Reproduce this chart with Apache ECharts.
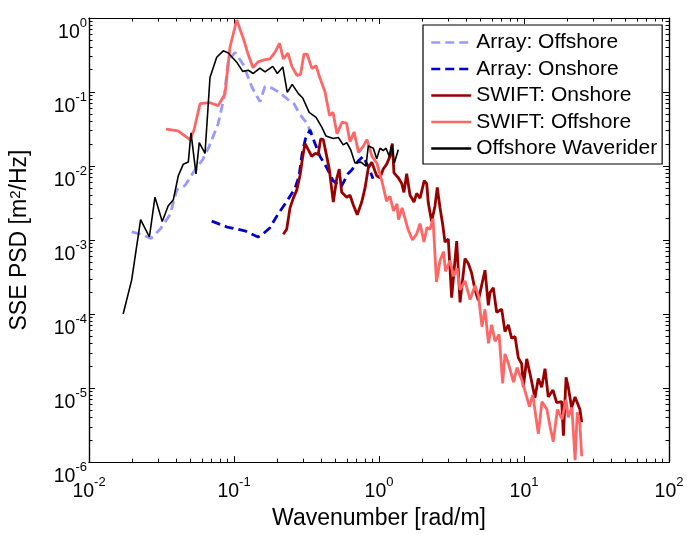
<!DOCTYPE html>
<html>
<head>
<meta charset="utf-8">
<script src="https://cdn.jsdelivr.net/npm/echarts@6/dist/echarts.min.js"></script>
<style>
  html, body { margin: 0; padding: 0; background: #fff; }
  #chart { width: 687px; height: 535px; }
</style>
</head>
<body>
<div id="chart"></div>
<script>
// Wavenumber [rad/m] and SSE PSD [m^2/Hz]
const arrayOffK = [0.0197, 0.0228, 0.0268, 0.0309, 0.0362, 0.0404, 0.0459, 0.0522, 0.0611, 0.0673,
  0.0776, 0.0853, 0.0914, 0.1016, 0.116, 0.133, 0.151, 0.1636, 0.183, 0.2075,
  0.232, 0.259, 0.285, 0.314, 0.345];
const arrayOffPsd = [1.29e-3, 1.2e-3, 1.05e-3, 1.4e-3, 2.2e-3, 4.8e-3, 5.45e-3, 8.1e-3, 0.0124, 0.0183,
  0.0368, 0.083, 0.264, 0.343, 0.234, 0.116, 0.074, 0.119, 0.113, 0.097,
  0.081, 0.0695, 0.0498, 0.039, 0.0272];

const arrayOnK = [0.0702, 0.0895, 0.119, 0.1465, 0.158, 0.177, 0.202, 0.232, 0.2635, 0.281,
  0.2945, 0.311, 0.334, 0.362, 0.392, 0.4375, 0.482, 0.547, 0.611, 0.651,
  0.716, 0.776, 0.84, 0.91];
const arrayOnPsd = [1.8e-3, 1.5e-3, 1.33e-3, 1.1e-3, 1.2e-3, 1.47e-3, 2.27e-3, 3.36e-3, 4.98e-3, 7.4e-3,
  0.0144, 0.0233, 0.0307, 0.0201, 0.0135, 9.4e-3, 6.35e-3, 5.2e-3, 7.85e-3, 8.9e-3,
  0.0116, 0.0135, 0.01, 6.75e-3];

const swiftOnK = [0.2188, 0.2309, 0.2434, 0.2565, 0.2705, 0.285, 0.298, 0.309, 0.325, 0.3435,
  0.362, 0.381, 0.396, 0.413, 0.436, 0.454, 0.484, 0.511, 0.532, 0.553,
  0.599, 0.631, 0.665, 0.708, 0.76, 0.8, 0.844, 0.891, 0.964, 1.016,
  1.07, 1.13, 1.19, 1.236, 1.268, 1.358, 1.435, 1.486, 1.552, 1.637,
  1.743, 1.82, 1.919, 2.052, 2.133, 2.188, 2.307, 2.433, 2.523, 2.636,
  2.75, 2.851, 3.006, 3.17, 3.435, 3.622, 3.917, 4.13, 4.356, 4.592,
  4.84, 5.383, 5.675, 5.83, 6.14, 6.48, 7.02, 7.39, 7.8, 8.22,
  8.67, 9.14, 9.64, 9.89, 10.44, 11.0, 11.9, 12.55, 13.25, 13.96,
  14.7, 15.85, 16.8, 18.2, 18.7, 19.5, 20.2, 21.3, 22.5, 23.6, 24.3, 25.0];
const swiftOnPsd = [1.2e-3, 1.4e-3, 2.72e-3, 3.68e-3, 4.69e-3, 7.38e-3, 0.0135, 0.0201, 0.0167, 0.0135,
  0.0148, 0.0144, 0.0233, 0.0227, 0.0135, 9.1e-3, 3.26e-3, 6.75e-3, 9.1e-3, 4.41e-3,
  3.79e-3, 4.03e-3, 2.98e-3, 2.2e-3, 3.26e-3, 4.98e-3, 9.4e-3, 0.0113, 7.38e-3, 6.95e-3,
  9.1e-3, 0.0106, 0.0135, 0.0201, 8.1e-3, 6.95e-3, 5.8e-3, 4.41e-3, 7.85e-3, 4.03e-3,
  3.26e-3, 4.28e-3, 3.68e-3, 6.35e-3, 5.8e-3, 3.16e-3, 1.78e-3, 2.89e-3, 5.14e-3, 2.72e-3,
  1.62e-3, 9.4e-4, 1.03e-3, 1.67e-4, 9.7e-4, 1.44e-4, 5.62e-4, 4.83e-4, 3.57e-4, 2.13e-4,
  1.53e-4, 3.91e-4, 1.31e-4, 1.95e-4, 2.27e-4, 1.06e-4, 1.16e-4, 5.8e-5, 7.16e-5, 4.69e-5,
  4.98e-5, 2.56e-5, 2.13e-5, 1.03e-5, 2.48e-5, 1.57e-5, 7.38e-6, 1.35e-5, 1.03e-5, 1.83e-5,
  7.6e-6, 9.4e-6, 6.35e-6, 6.55e-6, 2.27e-6, 1.4e-5, 1.03e-5, 5.46e-6, 7.6e-6, 5.97e-6, 5.14e-6, 3.46e-6];

const swiftOffK = [0.034, 0.0411, 0.0497, 0.053, 0.0583, 0.0683, 0.0776, 0.0867, 0.0938, 0.1044,
  0.1153, 0.125, 0.1352, 0.1465, 0.161, 0.177, 0.192, 0.206, 0.219, 0.2355,
  0.251, 0.272, 0.2875, 0.304, 0.319, 0.345, 0.368, 0.392, 0.4245, 0.456,
  0.482, 0.513, 0.556, 0.597, 0.631, 0.673, 0.722, 0.776, 0.826, 0.895,
  0.968, 1.049, 1.127, 1.19, 1.259, 1.33, 1.362, 1.442, 1.585, 1.702,
  1.815, 1.919, 2.042, 2.143, 2.249, 2.357, 2.492, 2.636, 2.786, 2.877,
  3.09, 3.266, 3.451, 3.622, 3.917, 4.246, 4.592, 4.853, 5.129, 5.383,
  5.69, 5.985, 6.31, 6.73, 7.13, 7.39, 7.82, 8.47, 8.95, 9.68,
  10.44, 10.9, 11.5, 12.55, 13.3, 14.4, 15.1, 15.9, 17.0, 18.3,
  19.5, 20.2, 21.4, 22.5, 23.3, 24.3, 25.0];
const swiftOffPsd = [0.0316, 0.0298, 0.0227, 0.0307, 0.0695, 0.0717, 0.0654, 0.0941, 0.403, 0.94,
  0.546, 0.326, 0.213, 0.256, 0.272, 0.28, 0.346, 0.455, 0.28, 0.336,
  0.22, 0.1675, 0.1725, 0.326, 0.326, 0.207, 0.2265, 0.153, 0.1, 0.0483,
  0.053, 0.0272, 0.0391, 0.0379, 0.0213, 0.0289, 0.0153, 0.0183, 0.0227, 0.0135,
  0.0109, 6.15e-3, 3.36e-3, 3.91e-3, 2.48e-3, 3.07e-3, 1.89e-3, 2.72e-3, 1.4e-3, 1.0e-3,
  1.2e-3, 1.67e-3, 9.4e-4, 1.48e-3, 1.4e-3, 1.95e-3, 2.72e-4, 5.3e-4, 6.95e-4, 3.79e-4,
  5.3e-4, 3.26e-4, 4.15e-4, 2.13e-4, 2.8e-4, 1.57e-4, 2.41e-4, 1.78e-4, 6.75e-5, 1.16e-4,
  4.03e-5, 7.16e-5, 4.28e-5, 5.3e-5, 1.16e-5, 2.89e-5, 2.13e-5, 1.2e-5, 1.89e-5, 1.27e-5,
  7.6e-6, 5.6e-6, 8.1e-6, 2.41e-6, 6.55e-6, 5.14e-6, 3.07e-6, 1.89e-6, 5.14e-6, 3.79e-6,
  6.95e-6, 4.03e-6, 5.46e-6, 1.06e-6, 4.69e-6, 3.26e-6, 1.2e-6];

const waveriderK = [0.0172, 0.0197, 0.0227, 0.0261, 0.0285, 0.032, 0.0352, 0.0381, 0.0413, 0.0447,
  0.0484, 0.0505, 0.0547, 0.0576, 0.0631, 0.0683, 0.076, 0.0844, 0.0914, 0.1044,
  0.1148, 0.1255, 0.1358, 0.151, 0.1636, 0.185, 0.199, 0.217, 0.233, 0.252,
  0.278, 0.298, 0.33, 0.368, 0.403, 0.431, 0.484, 0.524, 0.567, 0.599,
  0.638, 0.683, 0.751, 0.813, 0.844, 0.914, 0.964, 1.016, 1.07, 1.117,
  1.178, 1.224, 1.276, 1.358];
const waveriderPsd = [1.0e-4, 2.9e-4, 1.89e-3, 1.1e-3, 3.8e-3, 1.78e-3, 2.9e-3, 3.47e-3, 7.4e-3, 0.0106,
  0.0113, 0.028, 7.85e-3, 0.0207, 0.0148, 0.157, 0.295, 0.36, 0.336, 0.253,
  0.19, 0.197, 0.178, 0.211, 0.187, 0.222, 0.178, 0.218, 0.099, 0.127,
  0.095, 0.083, 0.053, 0.0455, 0.0336, 0.0254, 0.0236, 0.0243, 0.0193, 0.0207,
  0.0166, 0.011, 0.0113, 0.01, 0.0187, 0.0174, 0.0125, 0.0174, 0.0162, 0.0174,
  0.0135, 0.0193, 0.011, 0.0166];

// decade ticks
const xMajor = [0.01, 0.1, 1, 10, 100];
const yMajor = [1e-6, 1e-5, 1e-4, 1e-3, 1e-2, 1e-1, 1];

function minorTicks(decades) {
  const out = [];
  decades.slice(0, -1).forEach((d) => {
    for (let m = 2; m <= 9; m++) out.push(m * d);
  });
  return out;
}

const font = 'Liberation Sans, Arial, Helvetica, sans-serif';
const zip = (a, b) => a.map((v, i) => [v, b[i]]);

const powRich = {
  b: { fontSize: 19.5, fontFamily: font, color: '#000', verticalAlign: 'bottom', lineHeight: 26 },
  e: { fontSize: 13, fontFamily: font, color: '#000', verticalAlign: 'top', lineHeight: 13 },
};
const powFormatter = (v) => '{b|10}{e|' + Math.round(Math.log10(v)) + '}';

function xAxisDef(position, values, len, labels) {
  return {
    type: 'log', logBase: 10, min: 0.01, max: 100, position: position,
    axisLine: { show: true, onZero: false, lineStyle: { color: '#000', width: 1.2 } },
    axisTick: { show: true, inside: true, length: len, customValues: values, lineStyle: { color: '#000', width: 1 } },
    axisLabel: labels
      ? { show: true, margin: 8, padding: [6, 0, 0, 0], customValues: values, formatter: powFormatter, rich: powRich }
      : { show: false },
    splitLine: { show: false },
    minorTick: { show: false },
  };
}
function yAxisDef(position, values, len, labels) {
  return {
    type: 'log', logBase: 10, min: 1e-6, max: 1, position: position,
    axisLine: { show: true, onZero: false, lineStyle: { color: '#000', width: 1.2 } },
    axisTick: { show: true, inside: true, length: len, customValues: values, lineStyle: { color: '#000', width: 1 } },
    axisLabel: labels
      ? { show: true, margin: 2, padding: [24, 0, 0, 0], customValues: values, formatter: powFormatter, rich: powRich }
      : { show: false },
    splitLine: { show: false },
    minorTick: { show: false },
  };
}

const xAxes = [
  xAxisDef('bottom', xMajor, 6, true),
  xAxisDef('bottom', minorTicks(xMajor), 3.5, false),
  xAxisDef('top', xMajor, 6, false),
  xAxisDef('top', minorTicks(xMajor), 3.5, false),
];
Object.assign(xAxes[0], {
  name: 'Wavenumber [rad/m]', nameLocation: 'middle', nameGap: 42,
  nameTextStyle: { fontSize: 23, fontFamily: font, color: '#000' },
});

const yAxes = [
  yAxisDef('left', yMajor, 6, true),
  yAxisDef('left', minorTicks(yMajor), 3.5, false),
  yAxisDef('right', yMajor, 6, false),
  yAxisDef('right', minorTicks(yMajor), 3.5, false),
];
Object.assign(yAxes[0], {
  name: 'SSE PSD [m{s|2}/Hz]', nameLocation: 'middle', nameGap: 58, nameRotate: 90,
  nameTextStyle: {
    fontSize: 23, fontFamily: font, color: '#000',
    rich: { s: { fontSize: 15, fontFamily: font, color: '#000', verticalAlign: 'top', lineHeight: 15 } },
  },
});

function lineSeries(name, k, psd, color, width, dashed) {
  return {
    name: name, type: 'line', data: zip(k, psd),
    symbol: 'none', showSymbol: false, smooth: false, animation: false,
    lineStyle: { color: color, width: width, type: dashed ? [9, 5] : 'solid' },
    itemStyle: { color: color },
  };
}

const chart = echarts.init(document.getElementById('chart'), null, { renderer: 'canvas' });

chart.setOption({
  animation: false,
  backgroundColor: '#fff',
  grid: { left: 89, right: 18, top: 18, bottom: 61, containLabel: false },
  xAxis: xAxes,
  yAxis: yAxes,
  legend: {
    orient: 'vertical', left: 423, top: 25,
    padding: [7, 5, 5, 7], itemGap: 5.5, itemWidth: 40, itemHeight: 20,
    backgroundColor: '#fff', borderColor: '#000', borderWidth: 1.2, borderRadius: 0,
    itemStyle: { opacity: 0 },
    lineStyle: { width: 2.5 },
    textStyle: { fontSize: 21, fontFamily: font, color: '#000', lineHeight: 20 },
    data: ['Array: Offshore', 'Array: Onshore', 'SWIFT: Onshore', 'SWIFT: Offshore', 'Offshore Waverider'],
  },
  series: [
    lineSeries('Array: Offshore', arrayOffK, arrayOffPsd, '#9999ff', 2.8, true),
    lineSeries('Array: Onshore', arrayOnK, arrayOnPsd, '#0000cc', 2.8, true),
    lineSeries('SWIFT: Onshore', swiftOnK, swiftOnPsd, '#990000', 2.8, false),
    lineSeries('SWIFT: Offshore', swiftOffK, swiftOffPsd, '#ff6666', 2.8, false),
    lineSeries('Offshore Waverider', waveriderK, waveriderPsd, '#000000', 1.6, false),
  ],
});

window.addEventListener('resize', () => {
  chart.resize();
});
</script>
</body>
</html>
